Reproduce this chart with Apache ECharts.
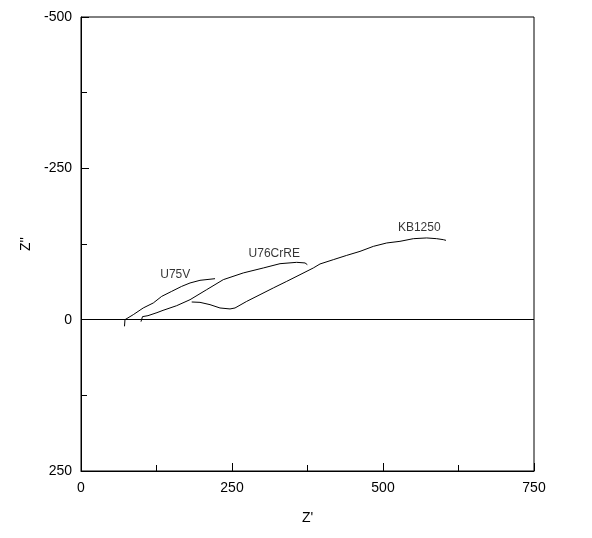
<!DOCTYPE html>
<html>
<head>
<meta charset="utf-8">
<script src="https://cdn.jsdelivr.net/npm/echarts@6/dist/echarts.min.js"></script>
<style>
  html, body { margin: 0; padding: 0; background: #fff; }
  #main { width: 592px; height: 538px; }
</style>
</head>
<body>
<div id="main"></div>
<script>
// Z' / -Z'' pairs
var u75v = [[72, 11], [72.8, 0], [86.6, -8.3], [103, -19.3], [119.7, -27.6], [133.6, -38.5],
  [150.2, -46.8], [166.7, -55], [180.5, -60.6], [197, -65], [221.9, -67.7]];

var u76crre = [[99.3, 3.3], [101.8, -5], [110.9, -6.6], [125.8, -11.6], [135.8, -15.4],
  [158.4, -23.1], [180.5, -33], [208.1, -49.6], [235.6, -66.1], [268.7, -77.2], [301.8, -85.4],
  [329.5, -92.5], [357.1, -94.7], [370.9, -93.7], [374.7, -90.9]];

var kb1250 = [[183.3, -29.2], [197, -28.6], [213.6, -24.8], [230.1, -19.3], [246.7, -17.7],
  [255, -19.3], [257.8, -21.5], [274.3, -30.2], [296.4, -41.3], [318.4, -52.4], [340.6, -63.3],
  [362.6, -74.3], [384.6, -85.4], [395.7, -92], [417.7, -99.1], [439.9, -106.2], [461.9, -112.8],
  [484, -121.1], [506.1, -126.7], [528.1, -129.4], [550.2, -133.8], [572.3, -135], [588.9, -133.8],
  [599.8, -132.2], [604.3, -131]];

// where the curve names sit
var curveLabels = [[156, -74, 'U75V'], [320, -108.5, 'U76CrRE'], [560, -152, 'KB1250']];

var xTicks = [0, 250, 500, 750];
var yTicks = [-500, -250, 0, 250];

var myChart = echarts.init(document.getElementById('main'));

function lineSeries(name, data) {
  return {
    name: name,
    type: 'line',
    data: data,
    showSymbol: false,
    symbol: 'none',
    smooth: false,
    lineStyle: { color: '#000', width: 1 },
    animation: false
  };
}

var axisFont = { color: '#000', fontFamily: 'Liberation Sans', fontSize: 14 };

myChart.setOption({
  animation: false,
  grid: {
    left: 81, right: 58, top: 17, bottom: 67,
    show: true, borderColor: '#000', borderWidth: 1
  },
  xAxis: {
    type: 'value',
    min: xTicks[0], max: xTicks[xTicks.length - 1], interval: 250,
    name: "Z'", nameLocation: 'middle', nameGap: 40,
    nameTextStyle: axisFont,
    axisLine: { onZero: false, lineStyle: { color: '#000', width: 1 } },
    axisTick: { inside: true, length: 8, lineStyle: { color: '#000' } },
    minorTick: { show: true, splitNumber: 2, length: 6, lineStyle: { color: '#000' } },
    axisLabel: { color: '#000', fontFamily: 'Liberation Sans', fontSize: 14, margin: 10 },
    splitLine: { show: false }
  },
  yAxis: {
    type: 'value',
    inverse: true,
    min: yTicks[0], max: yTicks[yTicks.length - 1], interval: 250,
    name: "Z''", nameLocation: 'middle', nameGap: 38, nameRotate: 90,
    nameTextStyle: axisFont,
    axisLine: { onZero: false, lineStyle: { color: '#000', width: 1 } },
    axisTick: { inside: true, length: 8, lineStyle: { color: '#000' } },
    minorTick: { show: true, splitNumber: 2, length: 6, lineStyle: { color: '#000' } },
    axisLabel: { color: '#000', fontFamily: 'Liberation Sans', fontSize: 14, margin: 9 },
    splitLine: { show: false }
  },
  series: [
    {
      type: 'line',
      data: [],
      markLine: {
        silent: true,
        symbol: 'none',
        label: { show: false },
        lineStyle: { color: '#000', width: 1, type: 'solid' },
        data: [{ yAxis: 0 }]
      }
    },
    lineSeries('U75V', u75v),
    lineSeries('U76CrRE', u76crre),
    lineSeries('KB1250', kb1250),
    {
      type: 'scatter',
      symbolSize: 0,
      data: curveLabels,
      label: {
        show: true,
        position: 'inside',
        color: '#000',
        fontFamily: 'Liberation Sans',
        fontSize: 12,
        formatter: function (p) { return p.data[2]; }
      }
    }
  ]
});
</script>
</body>
</html>
